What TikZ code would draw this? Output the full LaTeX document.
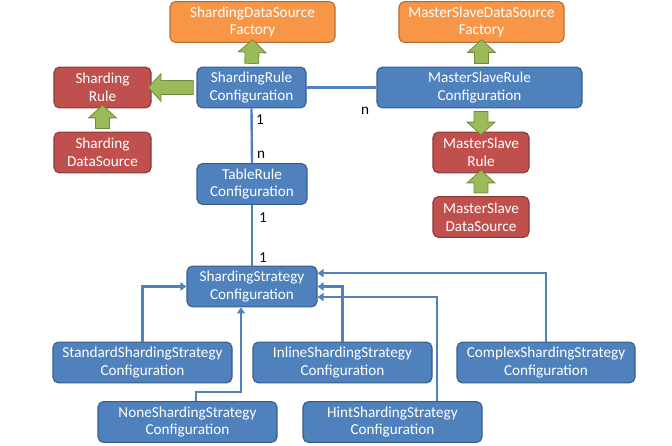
\documentclass[tikz,border=0pt]{standalone}
\usepackage{fontspec}
\setmainfont{Carlito}
\usetikzlibrary{arrows.meta, positioning, calc, shapes.arrows}

\definecolor{cfgblue}{HTML}{4F81BD}
\definecolor{cfgline}{HTML}{385D8A}
\definecolor{rulered}{HTML}{C0504D}
\definecolor{ruleline}{HTML}{8C3836}
\definecolor{factorange}{HTML}{F79646}
\definecolor{factline}{HTML}{B66D31}
\definecolor{usegreen}{HTML}{9BBB59}
\definecolor{useline}{HTML}{71893F}

% thick green arrow from one anchor to another
\newcommand{\fatarrow}[3]{%
  \path let \p1=(#2), \p2=(#3),
    \n1={atan2(\y2-\y1,\x2-\x1)}, \n2={veclen(\x2-\x1,\y2-\y1)} in
    ($(#2)!.5!(#3)$) node[fat, rotate=\n1, minimum height=\n2] (#1) {};}

\begin{document}
\begin{tikzpicture}[x=0.75pt, y=-0.75pt,
      box/.style={rounded corners=4pt, minimum height=30.5pt, align=center,
                  text=white, line width=0.8pt, inner sep=0pt,
                  font=\fontsize{11.4}{13.4}\selectfont},
      cfg/.style={box, fill=cfgblue, draw=cfgline},
      rul/.style={box, fill=rulered, draw=ruleline},
      fac/.style={box, fill=factorange, draw=factline},
      fat/.style={single arrow, draw=useline, fill=usegreen, line width=0.6pt,
                  inner xsep=0pt, inner ysep=4.9pt, minimum width=20pt,
                  single arrow head extend=5.2pt, single arrow tip angle=95},
      conn/.style={draw=cfgblue, line width=1.8pt},
      inh/.style={conn, -{Triangle[width=6pt, length=4.5pt]}},
      mult/.style={font=\fontsize{11.4}{13.4}\selectfont, inner sep=0pt}]

    \useasboundingbox (0,0) rectangle (672,446);

    % ===== Sharding side =====
    \node[fac, minimum width=123.75pt] (sdsf)   at (252.5,22)  {ShardingDataSource\\Factory};
    \node[rul, minimum width=72.75pt]  (srule)  at (102.5,87.5) {Sharding\\Rule};
    \node[cfg, minimum width=81.75pt]  (srconf) at (251.5,87.5) {ShardingRule\\Configuration};
    \node[rul, minimum width=72.75pt]  (sds)    at (102.5,152.5) {Sharding\\DataSource};
    \node[cfg, minimum width=82.5pt]   (trconf) at (252,184)   {TableRule\\Configuration};

    % ===== Master-slave side =====
    \node[fac, minimum width=123.75pt] (msdsf)   at (481.5,22)   {MasterSlaveDataSource\\Factory};
    \node[cfg, minimum width=153.75pt] (msrconf) at (479.5,87.5) {MasterSlaveRule\\Configuration};
    \node[rul, minimum width=72pt]     (msrule)  at (481,152.5)  {MasterSlave\\Rule};
    \node[rul, minimum width=72pt]     (msds)    at (481,217)    {MasterSlave\\DataSource};

    % ===== Strategies =====
    \node[cfg, minimum width=97.5pt]   (ssconf)  at (252,286.5)  {ShardingStrategy\\Configuration};
    \node[cfg, minimum width=134.25pt] (stdss)   at (142.5,362.5) {StandardShardingStrategy\\Configuration};
    \node[cfg, minimum width=134.25pt] (inliness) at (342.5,362.5) {InlineShardingStrategy\\Configuration};
    \node[cfg, minimum width=133.5pt]  (complexss) at (546,362.5) {ComplexShardingStrategy\\Configuration};
    \node[cfg, minimum width=134.25pt] (noness)  at (187.5,422)  {NoneShardingStrategy\\Configuration};
    \node[cfg, minimum width=134.25pt] (hintss)  at (392.5,422)  {HintShardingStrategy\\Configuration};

    % ===== Green arrows =====
    \fatarrow{a1}{srconf.west}{srule.east}
    \fatarrow{a2}{srconf.north}{sdsf.south}
    \fatarrow{a3}{sds.north}{srule.south}
    \fatarrow{a4}{msdsf.south |- msrconf.north}{msdsf.south}
    \fatarrow{a5}{msrule.north |- msrconf.south}{msrule.north}
    \fatarrow{a6}{msds.north}{msrule.south}

    % ===== Associations =====
    \draw[conn] (srconf.south) -- (trconf.north);
    \draw[conn] (trconf.south) -- (ssconf.north);
    \draw[conn] (srconf.east) -- (msrconf.west);
    \node[mult] (m1) at (260,120) {1};
    \node[mult] (m2) at (261,155) {n};
    \node[mult] (m3) at (263,218) {1};
    \node[mult] (m4) at (263,258) {1};
    \node[mult] (m5) at (365,111) {n};

    % ===== Inheritance =====
    \draw[inh] (stdss.north) |- (ssconf.west);
    \draw[inh] (inliness.north) |- (ssconf.east);
    \draw[inh] (complexss.north) |- ([yshift=10pt]ssconf.east);
    \draw[inh] ([xshift=33.4pt]hintss.north) |- ([yshift=-7.9pt]ssconf.east);
    \draw[inh] ([xshift=6.4pt]noness.north) -- ++(0,-9) -| ([xshift=-8.3pt]ssconf.south);

\end{tikzpicture}
\end{document}
